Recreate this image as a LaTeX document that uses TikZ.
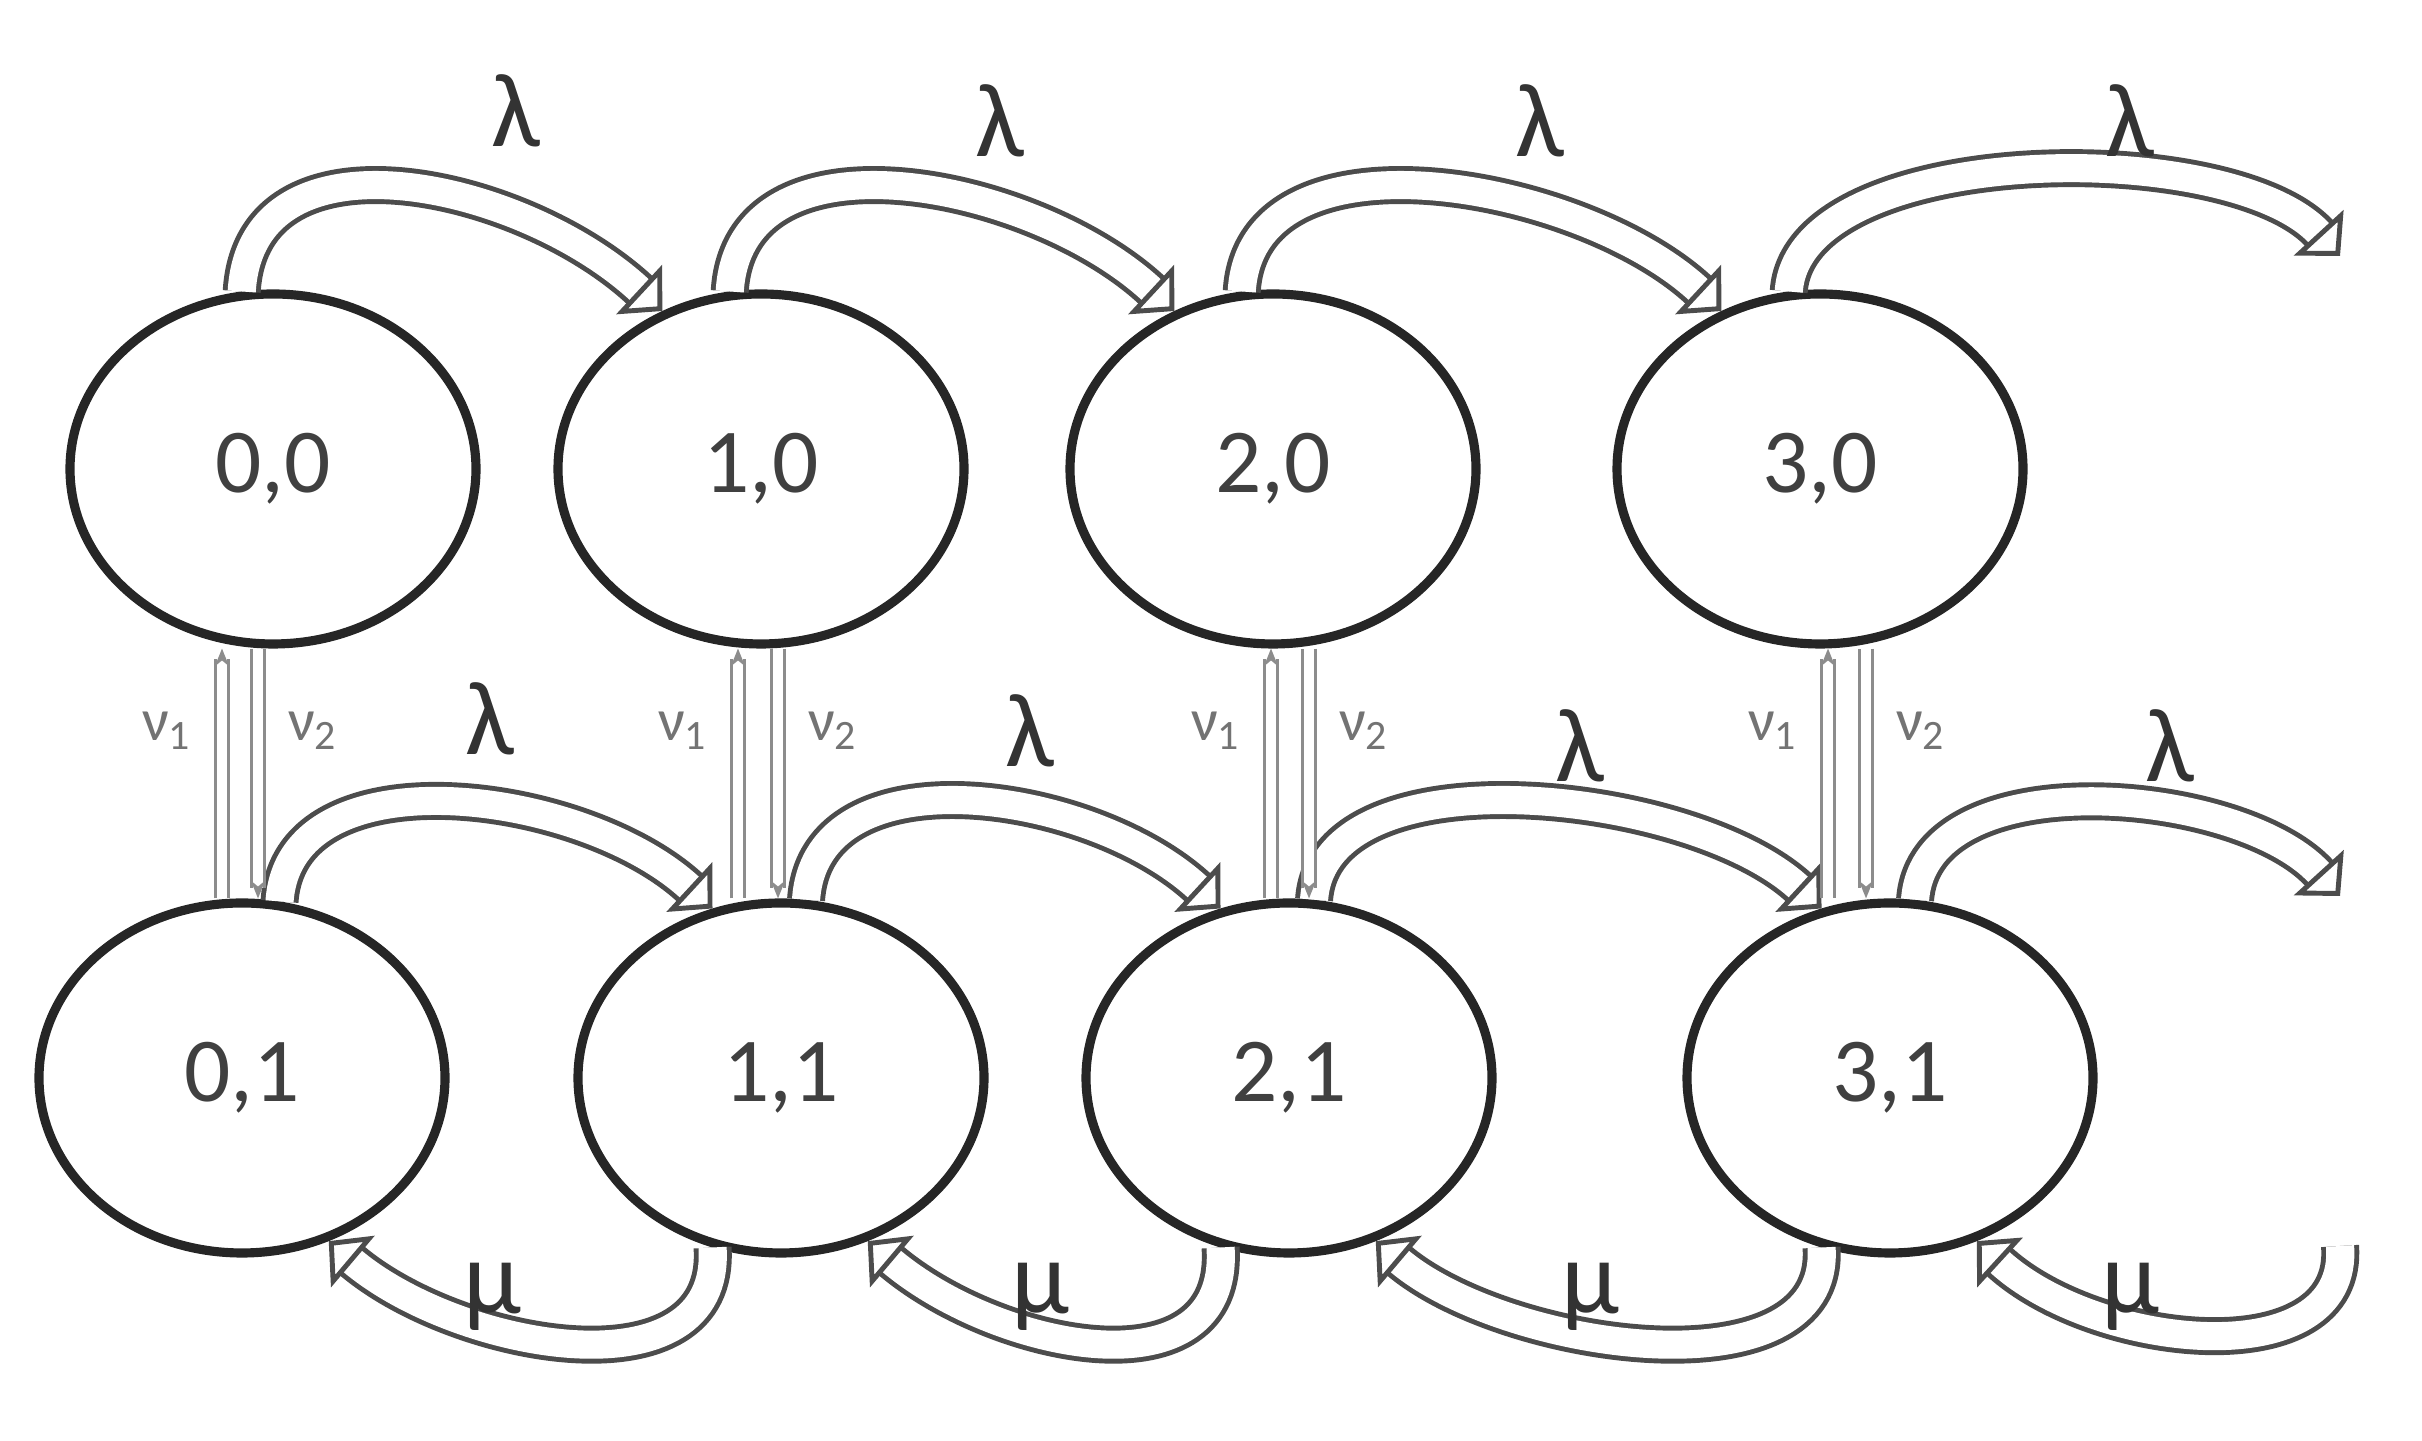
\documentclass[tikz,border=0pt]{standalone}
\usepackage{fontspec}
\setmainfont{Carlito}
\usetikzlibrary{arrows.meta,calc,shapes.geometric}
\begin{document}
\begin{tikzpicture}[
  st/.style={draw=black!85, line width=2.6pt, ellipse, minimum width=4.06cm, minimum height=3.5cm, font=\fontsize{26}{30}\selectfont\color{black!75}},
  blk/.style={double=white, double distance=8pt, line width=1.4pt, draw=black!70,
     -{Triangle[open, length=9pt, width=19pt, line width=1.4pt]}},
  vl/.style={double=white, double distance=3pt, line width=0.8pt, draw=black!45, -{Stealth[length=5pt,width=4pt]}},
  gl/.style={font=\fontsize{30}{34}\selectfont\color{black!80}},
  vlab/.style={font=\fontsize{17}{20}\selectfont\color{black!55}}
]
\useasboundingbox (0,0) rectangle (24.22,14.41);
\node[st] (n00) at (2.73,9.72) {0,0};
\node[st] (n10) at (7.61,9.72) {1,0};
\node[st] (n20) at (12.73,9.72) {2,0};
\node[st] (n30) at (18.20,9.72) {3,0};
\node[st] (n01) at (2.42,3.63) {0,1};
\node[st] (n11) at (7.81,3.63) {1,1};
\node[st] (n21) at (12.89,3.63) {2,1};
\node[st] (n31) at (18.90,3.63) {3,1};
\coordinate (ft) at (23.4,11.85);
\coordinate (fb) at (23.4,5.45);
\coordinate (fm) at (23.4,1.95);
% top lambda arrows
\draw[blk] (n00.100) .. controls +(0.1,1.7) and +(-1.4,1.3) .. (n10.122);
\draw[blk] (n10.100) .. controls +(0.1,1.7) and +(-1.4,1.3) .. (n20.122);
\draw[blk] (n20.100) .. controls +(0.1,1.7) and +(-1.4,1.3) .. (n30.122);
\draw[blk] (n30.100) .. controls +(0.1,1.5) and +(-1.1,1.2) .. (ft);
\node[gl] (l1) at (5.16,13.3) {λ};
\node[gl] (l2) at (10.0,13.2) {λ};
\node[gl] (l3) at (15.4,13.2) {λ};
\node[gl] (l4) at (21.3,13.2) {λ};
% bottom lambda arrows
\draw[blk] (n01.78) .. controls +(0.1,1.5) and +(-1.3,1.2) .. (n11.112);
\draw[blk] (n11.82) .. controls +(0.1,1.5) and +(-1.3,1.2) .. (n21.112);
\draw[blk] (n21.82) .. controls +(0.1,1.5) and +(-1.3,1.2) .. (n31.112);
\draw[blk] (n31.82) .. controls +(0.1,1.4) and +(-1.0,1.1) .. (fb);
\node[gl] (l5) at (4.9,7.22) {λ};
\node[gl] (l6) at (10.3,7.1) {λ};
\node[gl] (l7) at (15.8,6.95) {λ};
\node[gl] (l8) at (21.7,6.95) {λ};
% mu arrows
\draw[blk] (n11.248) .. controls +(0.1,-1.5) and +(1.3,-1.1) .. (n01.-62);
\draw[blk] (n21.248) .. controls +(0.1,-1.5) and +(1.3,-1.1) .. (n11.-62);
\draw[blk] (n31.248) .. controls +(0.1,-1.5) and +(1.3,-1.1) .. (n21.-62);
\draw[blk] (fm) .. controls +(0.1,-1.3) and +(1.2,-1.1) .. (n31.-62);
\node[gl] (m1) at (4.92,1.44) {μ};
\node[gl] (m2) at (10.4,1.44) {μ};
\node[gl] (m3) at (15.9,1.44) {μ};
\node[gl] (m4) at (21.3,1.44) {μ};
% vertical nu connectors
\foreach \t/\b/\xa/\xb in {n00/n01/2.22/2.58, n10/n11/7.38/7.78, n20/n21/12.71/13.09, n30/n31/18.28/18.66}{
  \coordinate (a\t) at (\xa,8.0);
  \coordinate (b\t) at (\xb,8.0);
  \draw[vl] (a\t |- \b.north) -- (a\t |- \t.south);
  \draw[vl] (b\t |- \t.south) -- (b\t |- \b.north);
  \node[vlab] at (\xa-0.55,7.1) {ν\textsubscript{1}};
  \node[vlab] at (\xb+0.55,7.1) {ν\textsubscript{2}};
}
\end{tikzpicture}
\end{document}
